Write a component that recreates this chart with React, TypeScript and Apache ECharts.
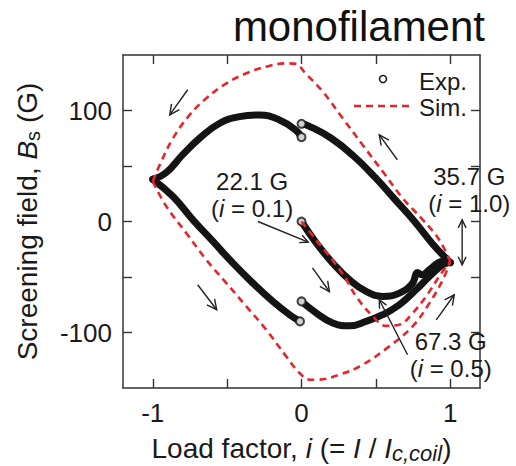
import React, { useEffect, useRef } from "react";
import * as echarts from "echarts";

const FONT = "'Liberation Sans', Arial, Helvetica, sans-serif";

// axis ticks / labels
const xTicks = [-1, -0.5, 0, 0.5, 1];
const xLabels = [-1, 0, 1];
const yTicks = [-100, -50, 0, 50, 100];
const yLabels = [-100, 0, 100];

// experimental (thick band of open circles)
const expUpperLeft = [[-1, 38], [-0.91, 44], [-0.8, 60], [-0.685, 75], [-0.55, 88.5], [-0.416, 94.5], [-0.282, 96], [-0.148, 91.5], [-0.04, 82.5], [0, 76]];
const expUpperRight = [[0, 88], [0.05, 86], [0.2, 75], [0.35, 59], [0.5, 39], [0.62, 21], [0.76, 0], [0.88, -20], [1, -37]];
const expLowerLeft = [[-1, 38], [-0.864, 22.5], [-0.73, 1.5], [-0.595, -18], [-0.461, -37.5], [-0.327, -55.5], [-0.193, -72], [-0.08, -84], [-0.01, -90]];
const expInnerUpper = [[0, 0], [0.1, -19.5], [0.21, -37.5], [0.322, -52.5], [0.434, -63], [0.546, -67.5], [0.658, -64.5], [0.745, -56], [0.78, -46], [0.81, -48], [0.86, -43.5], [0.948, -36], [1, -37]];
const expInnerLower = [[0, -72], [0.1, -82.5], [0.21, -91.5], [0.322, -94], [0.434, -90], [0.546, -84], [0.658, -75], [0.77, -61.5], [0.86, -49.5], [0.95, -39], [1, -37]];
const expEnds = [[0, 88], [0, 76], [-0.01, -90], [0, -72], [0, 0]];

// simulation (red dashed)
const simUpper = [[-1, 36], [-0.953, 51], [-0.864, 75], [-0.752, 96], [-0.64, 111], [-0.505, 124.5], [-0.371, 133.5], [-0.237, 139.5], [-0.103, 142.5], [-0.04, 142], [0.03, 133], [0.143, 117], [0.277, 93], [0.411, 69], [0.546, 45], [0.68, 21], [0.816, 1.5], [0.926, -16.5], [1, -36]];
const simLower = [[-1, 36], [-0.908, 13.5], [-0.774, -10.5], [-0.64, -34.5], [-0.505, -55.5], [-0.371, -76.5], [-0.237, -97.5], [-0.103, -121.5], [-0.013, -136.5], [0.054, -142.5], [0.099, -142.5], [0.255, -138], [0.411, -129], [0.59, -112.5], [0.747, -94.5], [0.86, -73.5], [0.95, -52.5], [1, -36]];
const simInner = [[0, 0], [0.1, -17], [0.21, -35], [0.3, -52], [0.367, -67.5], [0.48, -85.5], [0.568, -94], [0.658, -93], [0.747, -82.5], [0.837, -67.5], [0.926, -49.5], [1, -36]];

// annotation arrows (data coordinates)
const dirArrows = [
  [[-0.765, 118.7], [-0.886, 96.1]],
  [[0.644, 55.6], [0.523, 78.1]],
  [[-0.698, -57], [-0.57, -79.5]],
  [[0.074, -41.7], [0.188, -63.3]],
  [[0.906, -88.6], [1.027, -66]],
];
const pointerArrows = [
  [[-0.293, 0], [0.045, -18.5]],
  [[0.713, -120], [0.523, -70.5]],
];
const doubleArrow = [[1.08, 1.5], [1.08, -39]];

const annotations = [
  { text: "22.1 G\n({it|i} = 0.1)", at: [-0.332, 23.6] },
  { text: "35.7 G\n({it|i} = 1.0)", at: [1.128, 28.1] },
  { text: "67.3 G\n({it|i} = 0.5)", at: [1.003, -120.5] },
];

const BLACK = "#141414";
const RED = "#e5252b";

function expLine(name: string, data: number[][]) {
  return {
    name,
    type: "line",
    data,
    smooth: 0.45,
    showSymbol: false,
    lineStyle: { color: BLACK, width: 7, cap: "round", join: "round" },
    z: 2,
    silent: true,
  };
}
function simLine(name: string, data: number[][]) {
  return {
    name,
    type: "line",
    data,
    smooth: 0.4,
    showSymbol: false,
    lineStyle: { color: RED, width: 2.6, type: [7, 5] },
    z: 4,
    silent: true,
  };
}

function arrowGraphics(p0: number[], p1: number[], heads: "end" | "both", headLen = 10) {
  const out: any[] = [];
  const style = { stroke: "#222", lineWidth: 1.4, fill: "none" };
  out.push({ type: "line", shape: { x1: p0[0], y1: p0[1], x2: p1[0], y2: p1[1] }, style, z: 9 });
  const head = (tip: number[], from: number[]) => {
    const dx = tip[0] - from[0];
    const dy = tip[1] - from[1];
    const L = Math.hypot(dx, dy) || 1;
    const ux = dx / L, uy = dy / L;
    const a = (26 * Math.PI) / 180;
    const c = Math.cos(a), s = Math.sin(a);
    const l1 = [tip[0] - headLen * (ux * c - uy * s), tip[1] - headLen * (uy * c + ux * s)];
    const l2 = [tip[0] - headLen * (ux * c + uy * s), tip[1] - headLen * (uy * c - ux * s)];
    out.push({ type: "polyline", shape: { points: [l1, tip, l2] }, style, z: 9 });
  };
  head(p1, p0);
  if (heads === "both") head(p0, p1);
  return out;
}

export default function App() {
  const ref = useRef<HTMLDivElement>(null);
  useEffect(() => {
    if (!ref.current) return;
    const chart = echarts.init(ref.current, null, { renderer: "svg" });
    const axisLine = { show: true, onZero: false, lineStyle: { color: "#333", width: 1.5 } };
    const tickStyle = { color: "#333", width: 1.4 };
    const labelStyle = { fontSize: 26, color: "#1a1a1a", fontFamily: FONT };
    chart.setOption({
      animation: false,
      backgroundColor: "#fff",
      title: {
        text: "monofilament",
        right: 26,
        top: 0,
        textStyle: { fontSize: 42, fontWeight: "normal", color: "#111", fontFamily: FONT },
      },
      grid: { left: 123, right: 36, top: 55, bottom: 78, containLabel: false, outerBoundsMode: "none" },
      xAxis: [
        {
          type: "value",
          min: -1.2,
          max: 1.2,
          position: "bottom",
          axisLine,
          axisTick: { show: true, inside: true, length: 9, customValues: xTicks, lineStyle: tickStyle },
          axisLabel: { customValues: xLabels, margin: 12, ...labelStyle },
          splitLine: { show: false },
          name: "Load factor, {it|i} (= {it|I} / {it|I}{sub|c,coil})",
          nameLocation: "middle",
          nameGap: 44,
          nameTextStyle: {
            fontSize: 28,
            color: "#1a1a1a",
            fontFamily: FONT,
            lineHeight: 32,
            rich: {
              it: { fontStyle: "italic", fontSize: 28, fontFamily: FONT, color: "#1a1a1a", lineHeight: 32 },
              sub: { fontStyle: "italic", fontSize: 22, fontFamily: FONT, color: "#1a1a1a", verticalAlign: "bottom", lineHeight: 14 },
            },
          },
        },
        {
          type: "value",
          min: -1.2,
          max: 1.2,
          position: "top",
          axisLine,
          axisTick: { show: true, inside: true, length: 9, customValues: xTicks, lineStyle: tickStyle },
          axisLabel: { show: false },
          splitLine: { show: false },
        },
      ],
      yAxis: [
        {
          type: "value",
          min: -150,
          max: 150,
          interval: 50,
          position: "left",
          axisLine,
          axisTick: { show: true, inside: true, length: 9, customValues: yTicks, lineStyle: tickStyle },
          axisLabel: { customValues: yLabels, margin: 11, ...labelStyle },
          splitLine: { show: false },
          name: "Screening field, {it|B}{sub|s} (G)",
          nameLocation: "middle",
          nameGap: 80,
          nameRotate: 90,
          nameTextStyle: {
            fontSize: 28,
            color: "#1a1a1a",
            fontFamily: FONT,
            lineHeight: 32,
            rich: {
              it: { fontStyle: "italic", fontSize: 28, fontFamily: FONT, color: "#1a1a1a", lineHeight: 32 },
              sub: { fontSize: 20, fontFamily: FONT, color: "#1a1a1a", verticalAlign: "bottom", lineHeight: 16 },
            },
          },
        },
        {
          type: "value",
          min: -150,
          max: 150,
          interval: 50,
          position: "right",
          axisLine,
          axisTick: { show: true, inside: true, length: 9, customValues: yTicks, lineStyle: tickStyle },
          axisLabel: { show: false },
          splitLine: { show: false },
        },
      ],
      series: [
        expLine("Exp. upper-left", expUpperLeft),
        expLine("Exp. upper-right", expUpperRight),
        expLine("Exp. lower-left", expLowerLeft),
        expLine("Exp. inner-upper", expInnerUpper),
        expLine("Exp. inner-lower", expInnerLower),
        {
          name: "Exp. ends",
          type: "scatter",
          data: expEnds,
          symbol: "circle",
          symbolSize: 8,
          itemStyle: { color: "#fff", borderColor: BLACK, borderWidth: 2 },
          z: 3,
          silent: true,
        },
        simLine("Sim. upper", simUpper),
        simLine("Sim. lower", simLower),
        simLine("Sim. inner", simInner),
      ],
    });

    const px = (p: number[]) => chart.convertToPixel({ xAxisIndex: 0, yAxisIndex: 0 }, p) as number[];
    const graphics: any[] = [];
    dirArrows.forEach(([a, b]) => graphics.push(...arrowGraphics(px(a), px(b), "end", 11)));
    pointerArrows.forEach(([a, b]) => graphics.push(...arrowGraphics(px(a), px(b), "end", 9)));
    graphics.push(...arrowGraphics(px(doubleArrow[0]), px(doubleArrow[1]), "both", 9));
    annotations.forEach((a) => {
      const p = px(a.at);
      graphics.push({
        type: "text",
        x: p[0],
        y: p[1],
        style: {
          text: a.text,
          fontSize: 24,
          lineHeight: 27,
          fontFamily: FONT,
          fill: "#1a1a1a",
          align: "center",
          verticalAlign: "middle",
          rich: { it: { fontStyle: "italic", fontSize: 24, lineHeight: 27, fontFamily: FONT, fill: "#1a1a1a" } },
        },
        z: 10,
      });
    });
    // legend
    graphics.push({
      type: "circle",
      shape: { cx: 383, cy: 79, r: 3.5 },
      style: { fill: "#fff", stroke: BLACK, lineWidth: 1.5 },
      z: 10,
    });
    graphics.push({
      type: "text",
      x: 419,
      y: 68,
      style: {
        text: "Exp.\nSim.",
        fontSize: 24,
        lineHeight: 26,
        fontFamily: FONT,
        fill: "#1a1a1a",
        verticalAlign: "top",
      },
      z: 10,
    });
    graphics.push({
      type: "line",
      shape: { x1: 354, y1: 106, x2: 413, y2: 106 },
      style: { stroke: RED, lineWidth: 2.6, lineDash: [7, 5] },
      z: 10,
    });
    chart.setOption({ graphic: graphics });

    return () => chart.dispose();
  }, []);
  return <div ref={ref} style={{ position: "fixed", left: 0, top: 0, width: 516, height: 466, background: "#fff" }} />;
}
